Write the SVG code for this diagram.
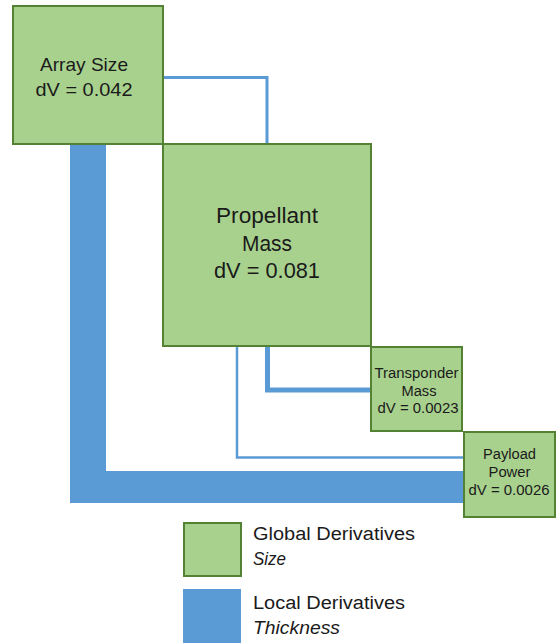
<svg xmlns="http://www.w3.org/2000/svg" width="556" height="643" viewBox="0 0 556 643">
<style>
.box{fill:#A9D18E;stroke:#548235;stroke-width:2}
.lnk{fill:none;stroke:#5B9BD5;stroke-linejoin:miter;stroke-linecap:butt}
text{font-family:"Liberation Sans",Arial,sans-serif;fill:#1a1a1a;text-anchor:middle}
.leg{text-anchor:start;font-size:18px}
</style>
<rect width="556" height="643" fill="#ffffff"/>
<g id="connectors">
<path class="lnk" d="M163,77.5 H267 V144" stroke-width="3"/>
<path class="lnk" d="M237,346 V457.5 H464" stroke-width="2.5"/>
<path class="lnk" d="M267.5,346 V390 H371" stroke-width="5"/>
<path d="M70,144 H106 V471 H464 V503 H70 Z" fill="#5B9BD5"/>
</g>
<g id="array-size">
<rect class="box" x="13" y="6" width="150" height="138"/>
<text x="84" y="71" font-size="19" textLength="88" lengthAdjust="spacingAndGlyphs">Array Size</text>
<text x="84" y="96" font-size="19" textLength="97" lengthAdjust="spacingAndGlyphs">dV = 0.042</text>
</g>
<g id="propellant-mass">
<rect class="box" x="163" y="144" width="208" height="202"/>
<text x="267" y="223" font-size="22" textLength="102" lengthAdjust="spacingAndGlyphs">Propellant</text>
<text x="267" y="251" font-size="22" textLength="50" lengthAdjust="spacingAndGlyphs">Mass</text>
<text x="267" y="278" font-size="22" textLength="106" lengthAdjust="spacingAndGlyphs">dV = 0.081</text>
</g>
<g id="transponder-mass">
<rect class="box" x="371" y="347" width="91" height="84"/>
<text x="416.5" y="378" font-size="14" textLength="84" lengthAdjust="spacingAndGlyphs">Transponder</text>
<text x="419" y="396" font-size="14" textLength="35" lengthAdjust="spacingAndGlyphs">Mass</text>
<text x="418" y="413" font-size="14" textLength="81" lengthAdjust="spacingAndGlyphs">dV = 0.0023</text>
</g>
<g id="payload-power">
<rect class="box" x="464" y="432" width="91" height="85"/>
<text x="509.5" y="459" font-size="14" textLength="53" lengthAdjust="spacingAndGlyphs">Payload</text>
<text x="509.5" y="477" font-size="14" textLength="42" lengthAdjust="spacingAndGlyphs">Power</text>
<text x="509" y="495" font-size="14" textLength="81" lengthAdjust="spacingAndGlyphs">dV = 0.0026</text>
</g>
<g id="legend">
<rect class="box" x="184" y="523" width="57" height="53"/>
<text class="leg" x="253" y="540" textLength="162" lengthAdjust="spacingAndGlyphs">Global Derivatives</text>
<text class="leg" x="253" y="565" font-style="italic" textLength="33" lengthAdjust="spacingAndGlyphs">Size</text>
<rect x="183" y="589" width="58" height="60" fill="#5B9BD5"/>
<text class="leg" x="253" y="609" textLength="152" lengthAdjust="spacingAndGlyphs">Local Derivatives</text>
<text class="leg" x="253" y="634" font-style="italic" textLength="87" lengthAdjust="spacingAndGlyphs">Thickness</text>
</g>
</svg>
